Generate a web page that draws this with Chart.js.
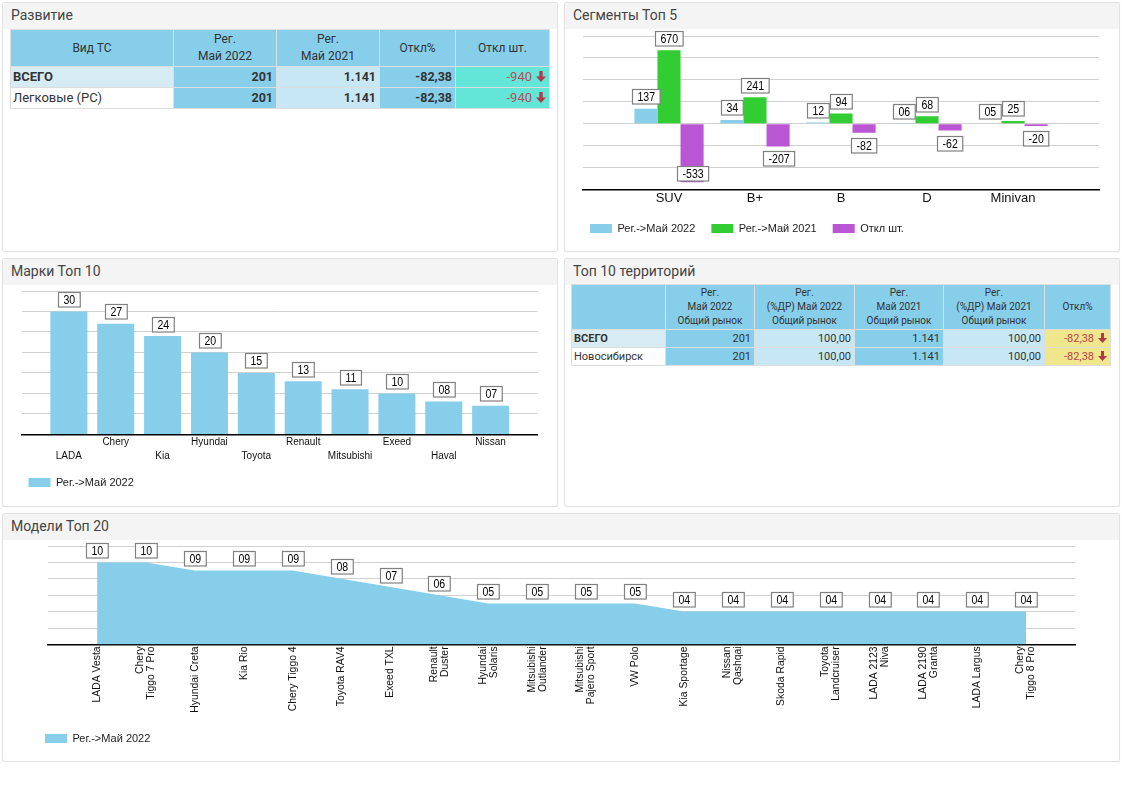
<!DOCTYPE html>
<html lang="ru">
<head>
<meta charset="utf-8">
<title>Развитие</title>
<script src="https://cdn.jsdelivr.net/npm/chart.js@4/dist/chart.umd.min.js"></script>
<style>
html, body { margin: 0; padding: 0; background: #fff; }
body { width: 1122px; height: 793px; overflow: hidden; position: relative; font-family: Roboto, sans-serif; color: #333; }
.panel { position: absolute; box-sizing: border-box; border: 1px solid #e2e2e2; border-radius: 3px; background: #fff; box-shadow: 0 0 1px #ddd; }
.panel h3 { margin: 0; height: 26px; background: #f4f4f4; font-size: 14px; font-weight: 400; line-height: 24px; padding-left: 8px; color: #444; }
canvas { position: absolute; }
table { position: absolute; border-collapse: collapse; table-layout: fixed; color: #333; }
td, th { border: 1px solid #ddd; box-sizing: border-box; padding: 0 3px; font-weight: 400; overflow: hidden; white-space: nowrap; }
th { background: #87ceeb; text-align: center; }
td { text-align: right; }
td.name { text-align: left; padding-left: 2px; }
td.c1 { background: #87ceeb; }
td.c2 { background: #c8e7f4; }
td.up { background: #d7ebf5; }
td.turq { background: #63e6d8; color: #b5505a; }
td.khaki { background: #f0e68c; color: #b8434f; }
#t1 th { font-size: 12px; line-height: 17px; }
#t1 td { font-size: 12.5px; line-height: 18px; }
#t1 td.name, #t1 td.turq { font-size: 13px; }
#t1 td.b { font-weight: 700; }
#t1 svg.arr { width: 10px; height: 11px; }
#t2 th { font-size: 10px; line-height: 14px; }
#t2 td { font-size: 11px; }
svg.arr { width: 9px; height: 10px; margin-left: 4px; vertical-align: -1px; }
</style>
</head>
<body>
<div class="panel" style="left:2px;top:2px;width:556px;height:250px"><h3>Развитие</h3></div>
<div class="panel" style="left:564px;top:2px;width:556px;height:250px"><h3>Сегменты Топ 5</h3></div>
<div class="panel" style="left:2px;top:258px;width:556px;height:249px"><h3>Марки Топ 10</h3></div>
<div class="panel" style="left:564px;top:258px;width:556px;height:249px"><h3>Топ 10 территорий</h3></div>
<div class="panel" style="left:2px;top:513px;width:1118px;height:249px"><h3>Модели Топ 20</h3></div>

<table id="t1" style="left:10px;top:29px;width:539px"></table>
<table id="t2" style="left:571px;top:284px;width:539px"></table>

<canvas id="segChart" style="left:564px;top:24px" width="556" height="220"></canvas>
<canvas id="markChart" style="left:0;top:270px" width="550" height="228"></canvas>
<canvas id="modelChart" style="left:0;top:525px" width="1100" height="229"></canvas>

<script>
// таблицы
const t1Head = [["Вид ТС"], ["Рег.", "Май 2022"], ["Рег.", "Май 2021"], ["Откл%"], ["Откл шт."]];
const t1Rows = [
    ["ВСЕГО", "201", "1.141", "-82,38", "-940"],
    ["Легковые (РС)", "201", "1.141", "-82,38", "-940"]
];
const t2Head = [
    [""],
    ["Рег.", "Май 2022", "Общий рынок"],
    ["Рег.", "(%ДР) Май 2022", "Общий рынок"],
    ["Рег.", "Май 2021", "Общий рынок"],
    ["Рег.", "(%ДР) Май 2021", "Общий рынок"],
    ["Откл%"]
];
const t2Rows = [
    ["ВСЕГО", "201", "100,00", "1.141", "100,00", "-82,38"],
    ["Новосибирск", "201", "100,00", "1.141", "100,00", "-82,38"]
];

// Сегменты Топ 5
const segLabels = ["SUV", "B+", "B", "D", "Minivan"];
const seg2022 = [137, 34, 12, 6, 5];
const seg2021 = [670, 241, 94, 68, 25];
const segDiff = [-533, -207, -82, -62, -20];

// Марки Топ 10
const markLabels = ["LADA", "Chery", "Kia", "Hyundai", "Toyota", "Renault", "Mitsubishi", "Exeed", "Haval", "Nissan"];
const markValues = [30, 27, 24, 20, 15, 13, 11, 10, 8, 7];

// Модели Топ 20
const modelLabels = [
    ["LADA Vesta"], ["Chery", "Tiggo 7 Pro"], ["Hyundai Creta"], ["Kia Rio"], ["Chery Tiggo 4"],
    ["Toyota RAV4"], ["Exeed TXL"], ["Renault", "Duster"], ["Hyundai", "Solaris"], ["Mitsubishi", "Outlander"],
    ["Mitsubishi", "Pajero Sport"], ["VW Polo"], ["Kia Sportage"], ["Nissan", "Qashqai"], ["Skoda Rapid"],
    ["Toyota", "Landcruiser"], ["LADA 2123", "Niva"], ["LADA 2190", "Granta"], ["LADA Largus"], ["Chery", "Tiggo 8 Pro"]
];
const modelValues = [10, 10, 9, 9, 9, 8, 7, 6, 5, 5, 5, 5, 4, 4, 4, 4, 4, 4, 4, 4];

const SERIES_2022 = "Рег.->Май 2022";
const SERIES_2021 = "Рег.->Май 2021";
const SERIES_DIFF = "Откл шт.";

const ARROW = '<svg class="arr" viewBox="0 0 9 10"><path d="M3 0h3v5h3L4.5 10 0 5h3z" fill="#b03a48"/></svg>';

function renderTable(id, widths, head, rows, cellClass) {
    const table = document.getElementById(id);
    let html = "<colgroup>" + widths.map(w => `<col style="width:${w}px">`).join("") + "</colgroup>";
    html += "<tr>" + head.map(h => `<th>${h.join("<br>")}</th>`).join("") + "</tr>";
    rows.forEach((row, r) => {
        html += "<tr>" + row.map((v, c) => `<td class="${cellClass(r, c)}">${v}${c === row.length - 1 ? ARROW : ""}</td>`).join("") + "</tr>";
    });
    table.innerHTML = html;
}

renderTable("t1", [163, 103, 103, 76, 94], t1Head, t1Rows, (r, c) => {
    if (c === 0) return "name" + (r === 0 ? " up b" : "");
    if (c === 4) return "turq";
    return (c === 2 ? "c2" : "c1") + " b";
});
renderTable("t2", [94, 89, 100, 89, 101, 66], t2Head, t2Rows, (r, c) => {
    if (c === 0) return "name" + (r === 0 ? " up" : "");
    if (c === 5) return "khaki";
    return c % 2 === 1 ? "c1" : "c2";
});
document.querySelector("#t1").rows[0].style.height = "37px";
document.querySelector("#t1").rows[1].style.height = "21px";
document.querySelector("#t1").rows[2].style.height = "21px";
document.querySelector("#t2").rows[0].style.height = "45px";
document.querySelector("#t2").rows[1].style.height = "18px";
document.querySelector("#t2").rows[2].style.height = "18px";
document.querySelector("#t2").rows[1].cells[0].style.fontWeight = "700";

// подписи значений в рамках
const boxLabels = {
    id: "boxLabels",
    afterDatasetsDraw(chart) {
        const ctx = chart.ctx;
        const h = 14.5;
        ctx.save();
        ctx.font = "12px 'Liberation Sans'";
        ctx.textAlign = "center";
        ctx.textBaseline = "middle";
        chart.data.datasets.forEach((ds, i) => {
            chart.getDatasetMeta(i).data.forEach((el, j) => {
                const v = ds.data[j];
                if (v === null) return;
                const text = v < 0 ? String(v) : String(v).padStart(2, "0");
                const textWidth = ctx.measureText(text).width * 0.88;
                const w = textWidth + 10;
                let top = v < 0 ? el.y + 5 : el.y - 5 - h;
                top = Math.min(top, chart.chartArea.bottom - 9 - h);
                const left = Math.round(el.x - w / 2) + 0.5;
                const y = Math.round(top) + 0.5;
                ctx.fillStyle = "#fff";
                ctx.strokeStyle = "#808080";
                ctx.lineWidth = 1.2;
                ctx.fillRect(left, y, w, h);
                ctx.strokeRect(left, y, w, h);
                ctx.fillStyle = "#000";
                ctx.fillText(text, left + w / 2, y + h / 2 + 0.5, textWidth);
            });
        });
        ctx.restore();
    }
};

// вертикальные подписи оси X, строки центрируются на отметке
const rotatedTicks = {
    id: "rotatedTicks",
    afterDraw(chart) {
        const ctx = chart.ctx;
        const scale = chart.scales.x;
        const lineStep = 11;
        ctx.save();
        ctx.font = "10.4px 'Liberation Sans'";
        ctx.fillStyle = "#111";
        ctx.textAlign = "right";
        ctx.textBaseline = "middle";
        chart.data.labels.forEach((lines, i) => {
            if (!lines) return;
            const x = scale.getPixelForValue(i);
            lines.forEach((line, k) => {
                ctx.save();
                ctx.translate(x + (k - (lines.length - 1) / 2) * lineStep, scale.top + 2);
                ctx.rotate(-Math.PI / 2);
                ctx.fillText(line, 0, 0);
                ctx.restore();
            });
        });
        ctx.restore();
    }
};

function pad(values) {
    return [null, ...values, null];
}

function makeChart(id, cfg) {
    return new Chart(document.getElementById(id), {
        type: cfg.type,
        data: { labels: ["", ...cfg.labels, ""], datasets: cfg.datasets },
        plugins: cfg.rotated ? [boxLabels, rotatedTicks] : [boxLabels],
        options: {
            responsive: false,
            animation: false,
            events: [],
            layout: { padding: cfg.padding },
            plugins: {
                tooltip: { enabled: false },
                legend: {
                    position: "bottom",
                    align: "start",
                    labels: {
                        boxWidth: 22,
                        boxHeight: 9,
                        padding: 16,
                        color: "#222",
                        font: { family: "'Liberation Sans'", size: 11 }
                    }
                }
            },
            scales: {
                x: {
                    offset: false,
                    afterFit: s => { s.height = cfg.xHeight; },
                    grid: { display: false, drawTicks: false },
                    border: { display: true, color: "#000", width: 1.5 },
                    ticks: {
                        display: !cfg.rotated,
                        autoSkip: false,
                        minRotation: 0,
                        maxRotation: 0,
                        color: "#111",
                        font: { family: "'Liberation Sans'", size: cfg.tickSize, lineHeight: cfg.tickLine },
                        padding: cfg.tickPad
                    }
                },
                y: {
                    min: cfg.min,
                    max: cfg.max,
                    afterFit: s => { s.width = cfg.yWidth; },
                    border: { display: false },
                    grid: { color: "#d0d0d0", drawTicks: false },
                    ticks: { display: false, stepSize: cfg.step }
                }
            }
        }
    });
}

makeChart("segChart", {
    type: "bar",
    labels: segLabels,
    datasets: [
        { label: SERIES_2022, data: pad(seg2022), backgroundColor: "#87ceeb", categoryPercentage: 0.805, barPercentage: 1 },
        { label: SERIES_2021, data: pad(seg2021), backgroundColor: "#32cd32", categoryPercentage: 0.805, barPercentage: 1 },
        { label: SERIES_DIFF, data: pad(segDiff), backgroundColor: "#ba55d3", categoryPercentage: 0.805, barPercentage: 1 }
    ],
    padding: { left: 10, top: 12, right: 21, bottom: 0 },
    yWidth: 9,
    xHeight: 17.5,
    min: -600, max: 800, step: 200,
    tickSize: 13, tickLine: 1.2, tickPad: 1
});

makeChart("markChart", {
    type: "bar",
    labels: markLabels.map((l, i) => (i % 2 === 0 ? ["", l] : [l])),
    datasets: [
        { label: SERIES_2022, data: pad(markValues), backgroundColor: "#87ceeb", categoryPercentage: 0.79, barPercentage: 1 }
    ],
    padding: { left: 12.5, top: 21, right: 12.5, bottom: 0 },
    yWidth: 9.5,
    xHeight: 26.6,
    min: 0, max: 35, step: 5,
    tickSize: 10, tickLine: 1.4, tickPad: 1
});

makeChart("modelChart", {
    type: "line",
    labels: modelLabels,
    datasets: [
        { label: SERIES_2022, data: pad(modelValues), backgroundColor: "#87ceeb", borderColor: "#87ceeb", borderWidth: 0, pointRadius: 0, tension: 0, fill: "origin" }
    ],
    padding: { left: 29, top: 21, right: 25, bottom: 0 },
    yWidth: 19.2,
    xHeight: 72.6,
    min: 0, max: 12, step: 2,
    tickSize: 10, tickLine: 1.1, tickPad: 2,
    rotated: true
});
</script>
</body>
</html>
